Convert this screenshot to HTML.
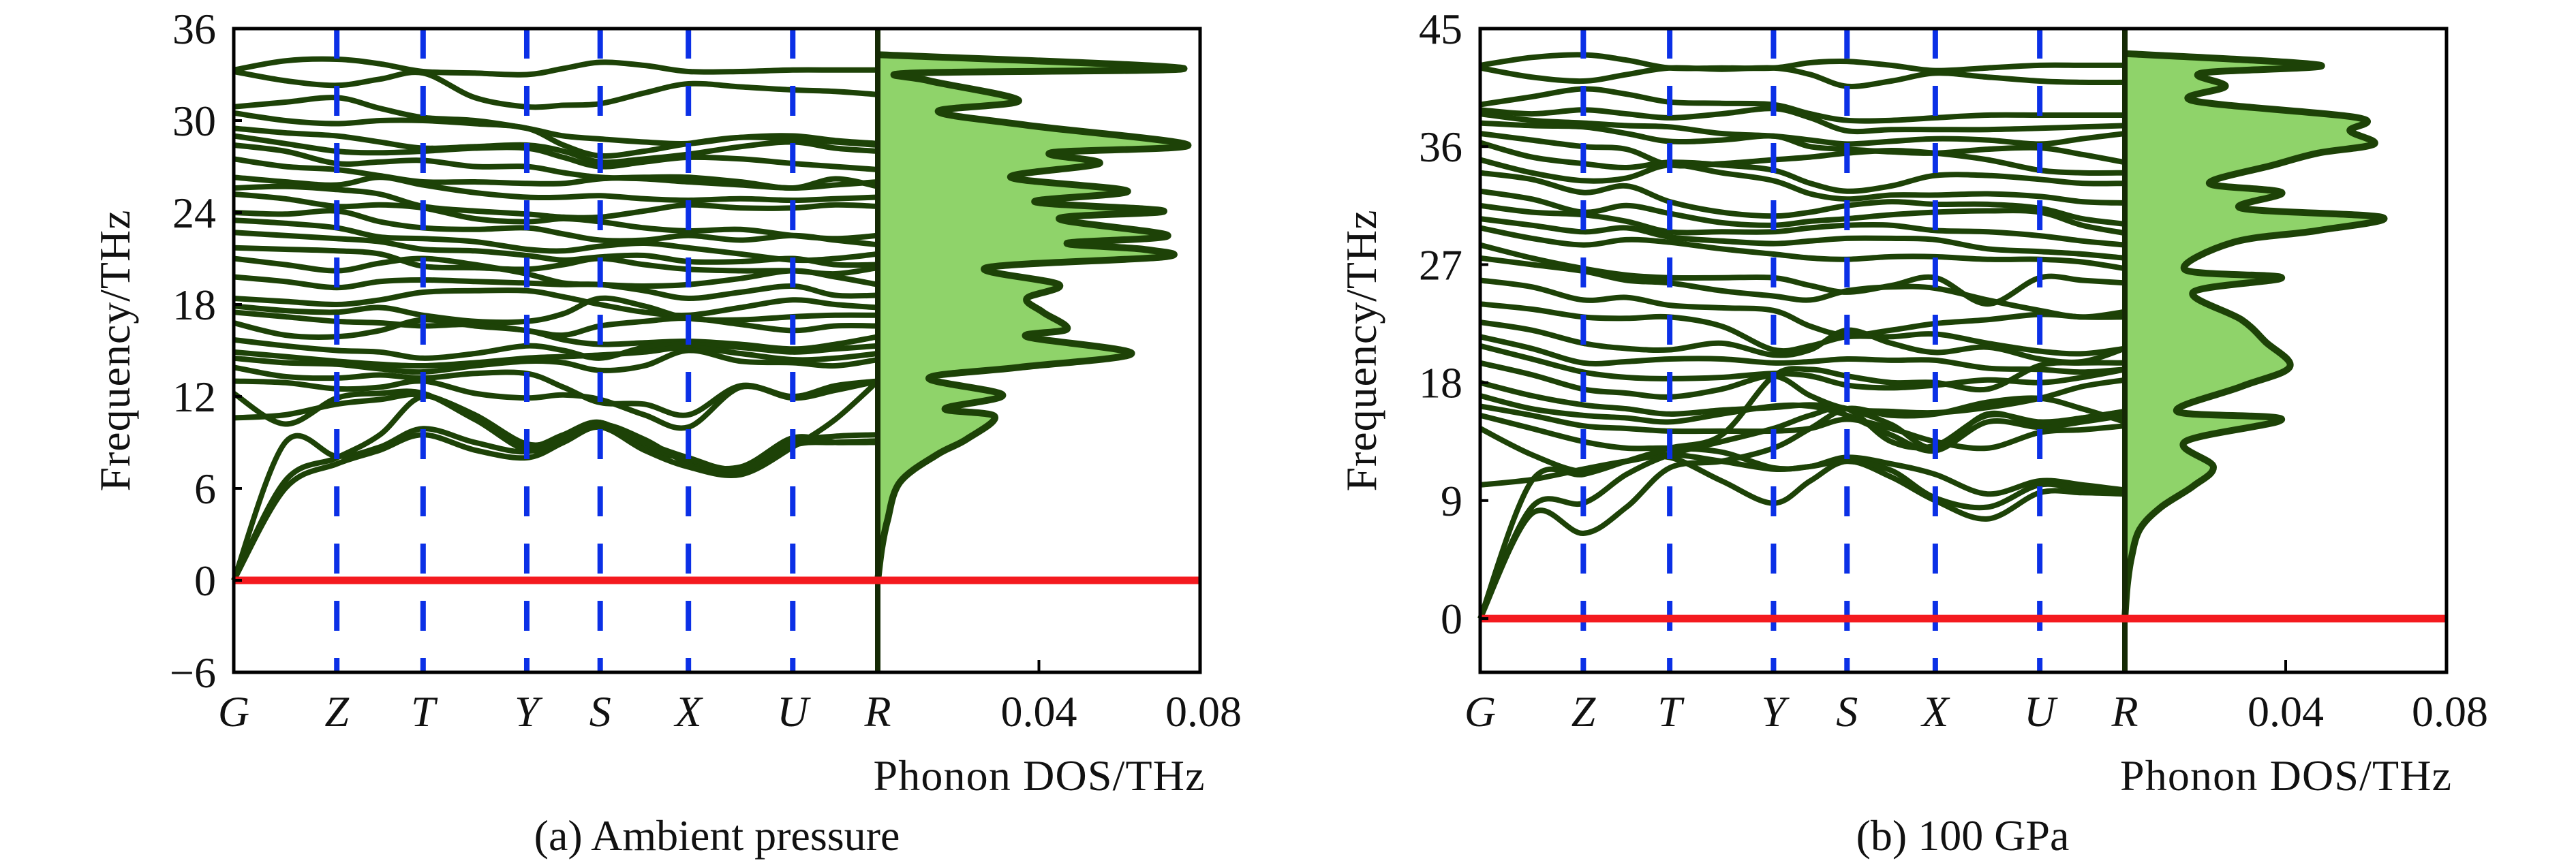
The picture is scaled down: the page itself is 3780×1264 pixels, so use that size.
<!DOCTYPE html>
<html><head><meta charset="utf-8"><style>
html,body{margin:0;padding:0;background:#fff}
svg{display:block}
svg text{font-family:"Liberation Serif","DejaVu Serif",serif;fill:#111}
</style></head><body>
<svg id="fig" width="3780" height="1264" viewBox="0 0 3780 1264" xmlns="http://www.w3.org/2000/svg"></svg>
<script>
// ---- data ----
const kLabels = ["G","Z","T","Y","S","X","U","R"];
const kPos = [0,0.160,0.294,0.455,0.569,0.706,0.868,1];
const dosTicks = [0.04,0.08];
const yTicksA = [-6,0,6,12,18,24,30,36];
const yTicksB = [0,9,18,27,36,45];
const bandsA = [
[33.3,33.9,34.0,33.7,33.2,33.1,33.0,33.4,33.8,33.6,33.2,33.2,33.3,33.3,33.3],
[33.2,32.6,32.3,32.7,33.1,31.5,30.9,31.0,31.1,31.8,32.4,32.2,32.0,31.9,31.7],
[30.9,31.2,31.5,30.8,30.2,30.0,29.5,29.0,28.8,28.6,28.5,28.9,29.0,28.7,28.5],
[30.5,30.0,29.8,30.0,30.0,29.8,29.5,28.4,27.7,28.0,28.5,28.9,28.8,28.6,28.4],
[29.5,29.2,29.0,28.6,28.2,28.3,28.4,28.0,27.3,27.5,27.8,28.3,28.6,28.2,28.0],
[29.0,28.5,28.0,27.9,28.0,28.2,28.2,27.6,27.0,27.3,27.6,27.5,27.2,27.0,26.8],
[28.4,28.0,27.2,27.3,27.4,27.0,27.0,26.6,26.3,26.2,26.0,25.8,25.6,25.8,26.0],
[27.5,27.0,26.8,26.4,26.0,26.0,25.9,25.9,26.2,26.3,26.3,26.0,25.6,26.2,25.7],
[26.3,26.0,25.8,26.3,25.8,25.3,25.0,25.0,25.1,24.9,24.8,24.9,24.8,24.9,25.0],
[25.6,25.7,25.5,25.2,24.4,24.1,23.9,23.7,23.7,24.1,24.5,24.3,24.3,24.5,24.4],
[25.2,24.9,24.4,24.5,24.3,23.6,23.4,23.6,23.4,23.0,22.8,22.9,22.5,22.3,22.5],
[24.0,23.9,24.1,23.4,23.0,22.9,23.0,22.6,22.2,22.2,22.5,22.2,22.5,22.2,21.9],
[23.5,23.3,23.0,22.4,22.3,22.1,21.6,21.5,21.8,22.0,21.7,21.3,20.9,21.0,21.3],
[22.7,22.5,22.3,22.1,21.6,21.5,21.2,20.9,21.1,21.2,20.8,20.8,21.0,20.6,20.6],
[21.7,21.6,21.5,21.3,20.5,20.4,20.3,20.6,21.0,20.6,20.3,20.2,20.2,20.0,20.4],
[21.0,20.6,20.2,20.7,21.0,20.6,20.0,19.4,19.3,19.2,19.3,19.7,20.2,19.8,19.3],
[19.8,19.5,19.1,19.5,19.6,19.5,19.4,19.3,19.3,18.9,18.4,18.8,19.2,18.6,18.6],
[18.4,18.2,18.0,18.3,18.8,18.9,18.9,18.5,18.0,17.5,17.3,17.8,18.3,18.0,17.8],
[17.9,17.6,17.5,17.8,17.3,16.9,16.9,17.4,18.4,17.9,17.1,17.0,17.2,17.3,17.3],
[17.5,17.2,16.9,16.8,16.6,16.7,16.3,16.0,16.6,16.9,17.1,16.7,16.3,16.6,16.6],
[16.8,16.0,15.9,16.3,17.0,16.6,16.3,15.7,15.4,15.5,15.6,15.4,15.1,15.4,15.9],
[15.7,15.3,15.0,14.9,14.5,14.8,15.3,15.0,14.5,15.2,15.4,15.2,14.9,15.1,15.3],
[14.9,14.6,14.3,14.1,14.0,14.2,14.5,14.6,14.7,14.9,15.2,14.8,14.4,14.5,14.8],
[14.5,14.2,14.1,13.8,13.6,14.0,14.3,14.2,13.7,14.0,15.0,14.3,14.2,14.0,14.4],
[13.9,13.3,13.2,13.4,13.2,13.5,13.5,12.6,11.6,11.5,10.8,12.7,12.0,12.7,13.0],
[13.0,12.9,12.5,12.6,13.0,12.2,11.9,12.1,11.8,10.8,10.0,12.6,11.9,12.4,13.0],
[10.6,10.8,11.5,11.8,12.1,10.8,8.9,9.3,10.2,9.2,7.7,7.4,9.3,9.0,9.1],
[12.2,10.2,11.9,12.2,12.2,10.5,8.8,9.5,10.3,8.6,7.9,7.0,8.8,9.0,9.1],
[0,9.0,8.1,8.7,9.9,9.0,8.4,9.5,10.3,8.8,7.9,7.3,9.1,9.0,9.0],
[0,6.0,7.6,8.5,9.5,8.5,8.0,9.0,10.0,8.5,7.4,6.9,8.7,10.5,13.0],
[0,6.5,8.0,9.5,12.0,10.5,8.5,9.2,10.1,9.0,8.0,7.2,9.0,9.4,9.5]
];
const bandsB = [
[42.2,42.8,43.0,42.6,42.0,42.0,42.0,42.4,42.5,42.2,41.8,42.0,42.2,42.2,42.2],
[42.0,41.3,41.0,41.5,42.0,41.9,42.0,41.5,40.6,41.0,41.6,41.3,41.0,40.9,40.9],
[39.2,39.8,40.4,40.0,39.4,39.3,39.2,38.5,38.0,38.0,38.2,38.4,38.4,38.4,38.4],
[38.8,38.5,38.8,38.5,38.2,38.5,38.9,38.2,37.2,37.3,37.3,37.3,37.4,37.5,37.6],
[38.5,38.0,37.8,37.6,37.5,37.0,36.8,36.5,36.2,36.4,36.6,36.5,36.2,36.6,37.0],
[37.8,37.6,37.5,37.0,36.4,36.5,36.8,36.0,35.8,35.6,35.5,35.8,35.9,35.4,34.8],
[37.0,36.5,36.0,35.8,34.6,34.7,35.0,35.2,35.5,35.7,35.5,35.0,34.2,34.0,34.0],
[36.3,35.2,34.7,34.4,34.8,34.6,34.2,33.2,32.6,33.0,33.8,33.8,33.5,33.2,33.2],
[35.0,34.0,33.4,33.6,34.6,34.0,33.4,32.4,32.0,32.3,32.3,32.4,32.2,31.8,31.7],
[34.0,33.5,32.5,33.0,31.8,31.0,30.7,31.0,31.5,31.8,31.6,31.6,31.3,30.5,30.1],
[32.6,32.0,31.0,31.5,30.9,30.2,30.0,30.3,30.5,30.8,31.0,31.1,31.0,30.0,29.4],
[31.5,31.0,30.8,30.3,29.5,29.5,29.5,29.8,30.0,30.0,29.6,29.5,29.2,28.8,28.5],
[30.5,30.0,29.5,29.8,29.1,28.8,28.6,28.8,29.0,29.0,28.9,28.2,28.0,27.8,27.5],
[29.8,29.0,28.5,28.9,28.7,28.2,27.8,27.5,27.4,27.6,27.6,27.4,27.4,27.2,26.7],
[28.5,27.5,26.7,26.2,26.0,26.0,26.0,25.4,24.9,25.4,26.0,24.0,26.0,25.8,25.6],
[27.5,27.0,26.5,25.8,25.6,25.0,24.6,24.3,25.0,25.3,25.2,24.3,23.5,23.0,23.4],
[25.8,25.3,24.3,24.5,23.9,23.7,23.5,22.3,21.6,22.0,22.5,22.8,23.2,23.0,23.0],
[24.0,23.6,23.0,22.9,23.0,22.3,20.5,20.8,21.5,21.5,21.7,21.0,20.4,20.2,20.6],
[22.6,22.0,21.0,20.6,20.5,21.0,20.1,20.5,22.0,21.0,20.3,20.7,19.8,19.6,20.6],
[21.5,20.6,19.5,19.6,19.8,19.8,19.5,19.6,19.8,19.7,19.7,19.1,19.0,18.8,19.0],
[20.8,19.8,18.8,18.4,18.3,18.4,18.7,18.5,17.8,17.6,17.8,18.2,18.0,18.4,19.0],
[19.5,18.6,17.5,17.2,16.9,17.5,18.5,17.0,16.0,15.8,15.7,16.1,16.8,17.7,18.2],
[18.0,17.0,16.3,16.0,15.6,15.9,16.1,16.3,16.0,14.8,13.0,15.6,14.8,15.3,15.8],
[17.0,16.0,15.5,15.3,15.0,15.6,16.2,16.2,15.5,14.0,12.8,15.0,14.6,15.0,15.5],
[16.2,15.5,14.7,14.5,14.3,14.3,14.3,14.5,15.2,14.5,13.5,13.0,14.2,14.4,14.7],
[15.5,14.5,13.5,13.0,13.0,12.7,11.5,11.6,12.3,11.8,11.0,9.5,10.5,10.2,9.8],
[10.2,10.6,11.4,12.0,12.3,10.5,8.8,10.5,12.0,10.8,9.0,7.6,9.6,9.6,9.5],
[14.5,12.5,11.2,12.0,12.5,12.0,11.4,11.6,12.0,11.3,9.2,8.5,10.2,9.8,9.5],
[0,8.5,8.8,11.0,12.5,13.5,14.5,15.5,16.0,13.5,13.2,15.5,15.0,15.3,15.8],
[0,8.0,6.5,8.5,11.5,12.0,13.0,14.5,16.0,15.5,15.6,16.5,16.8,16.0,15.0],
[0,10.5,11.0,12.0,13.0,14.0,18.5,19.0,18.5,18.0,18.0,17.5,19.3,19.5,19.5]
];
const dosFreqA = [34.3,33.4,33.1,32.6,31.3,30.6,29.7,28.4,27.9,27.2,26.3,25.4,24.7,24.1,23.6,22.5,22.0,21.6,21.1,20.4,19.3,18.4,17.5,16.4,15.9,14.8,13.9,13.2,12.1,11.2,10.7,9.2,8.2,6.4,3.9,2.1,0];
const dosValA = [0,0.076,0.0086,0.0127,0.035,0.015,0.037,0.077,0.043,0.055,0.033,0.062,0.039,0.071,0.045,0.072,0.047,0.066,0.071,0.027,0.045,0.037,0.041,0.047,0.037,0.063,0.035,0.0127,0.031,0.0167,0.029,0.022,0.0147,0.0055,0.0024,0.001,0];
const dosFreqB = [43.1,42.2,41.6,40.6,39.5,38.2,37.2,36.2,35.5,34.6,33.2,32.5,31.3,30.6,29.6,28.7,26.6,26.0,24.9,22.8,21.1,19.2,17.7,15.8,15.2,13.5,11.6,10.1,8.5,6.8,4.6,2.5,0];
const dosValB = [0,0.0487,0.019,0.025,0.017,0.058,0.056,0.062,0.048,0.037,0.021,0.039,0.029,0.064,0.048,0.027,0.015,0.039,0.017,0.029,0.035,0.041,0.029,0.013,0.039,0.015,0.022,0.017,0.009,0.0037,0.0016,0.0006,0];

const NS="http://www.w3.org/2000/svg";
const svg=document.getElementById('fig');
function mk(tag,parent){const e=document.createElementNS(NS,tag);(parent||svg).appendChild(e);return e;}
function smooth(pts){
  let d="M"+pts[0][0].toFixed(1)+","+pts[0][1].toFixed(1);
  for(let i=0;i<pts.length-1;i++){
    const p0=pts[Math.max(0,i-1)],p1=pts[i],p2=pts[i+1],p3=pts[Math.min(pts.length-1,i+2)];
    const c1=[p1[0]+(p2[0]-p0[0])/6,p1[1]+(p2[1]-p0[1])/6];
    const c2=[p2[0]-(p3[0]-p1[0])/6,p2[1]-(p3[1]-p1[1])/6];
    d+=" C"+c1[0].toFixed(1)+","+c1[1].toFixed(1)+" "+c2[0].toFixed(1)+","+c2[1].toFixed(1)+" "+p2[0].toFixed(1)+","+p2[1].toFixed(1);
  }
  return d;
}
function txt(parent,x,y,s,size,anchor,italic){
  const t=mk('text',parent);t.setAttribute('x',x);t.setAttribute('y',y);
  t.setAttribute('font-family','"Liberation Serif", "DejaVu Serif", serif');
  t.setAttribute('font-size',size);t.setAttribute('text-anchor',anchor||'middle');
  if(italic)t.setAttribute('font-style','italic');t.textContent=s;return t;
}
function panel(id,cfg,bands,yTicks,dosF,dosV,caption){
  const g=mk('g');
  
  
  const kx=k=>cfg.x0+k*(cfg.xR-cfg.x0);
  const fy=f=>cfg.top+(cfg.fmax-f)/(cfg.fmax-cfg.fmin)*(cfg.bottom-cfg.top);
  const dx=v=>cfg.xR+v/0.08*(cfg.x1-cfg.xR);
  const ks=[];for(let i=0;i<kPos.length;i++){ks.push(kPos[i]);if(i<kPos.length-1)ks.push((kPos[i]+kPos[i+1])/2);}
  const dpts=dosF.map((f,i)=>[dx(dosV[i]),fy(f)]);
  const dpath=smooth(dpts);
  const fill=mk('path',g);
  fill.setAttribute('d',dpath+" L"+dx(0)+","+fy(dosF[0])+" Z");
  fill.setAttribute('fill','#8fd36a');
  
  
  const dl=mk('path',g);
  dl.setAttribute('d',dpath);dl.setAttribute('fill','none');dl.setAttribute('stroke','#1d4207');dl.setAttribute('stroke-width','10');dl.setAttribute('stroke-linejoin','round');
  
  
  const bg=mk('g',g);
  
  
  bands.forEach((b,bi)=>{
    const p=mk('path',bg);
    p.setAttribute('d',smooth(b.map((f,i)=>[kx(ks[i]),fy(f)])));
    p.setAttribute('fill','none');p.setAttribute('stroke','#1d4207');p.setAttribute('stroke-width','8');
    
    
  });
  for(let i=1;i<kPos.length-1;i++){
    const l=mk('line',g);
    l.setAttribute('x1',kx(kPos[i]));l.setAttribute('x2',kx(kPos[i]));l.setAttribute('y1',cfg.top);l.setAttribute('y2',cfg.bottom);
    l.setAttribute('stroke','#0b30e6');l.setAttribute('stroke-width','8');l.setAttribute('stroke-dasharray','44 40');
    
    
  }
  const rl=mk('line',g);
  rl.setAttribute('x1',cfg.xR);rl.setAttribute('x2',cfg.xR);rl.setAttribute('y1',cfg.top);rl.setAttribute('y2',cfg.bottom);
  rl.setAttribute('stroke','#152a05');rl.setAttribute('stroke-width','8');
  
  
  const z=mk('line',g);
  z.setAttribute('x1',cfg.x0);z.setAttribute('x2',cfg.x1);z.setAttribute('y1',fy(0));z.setAttribute('y2',fy(0));
  z.setAttribute('stroke','#f41a1f');z.setAttribute('stroke-width','11');
  
  
  const fr=mk('rect',g);
  fr.setAttribute('x',cfg.x0);fr.setAttribute('y',cfg.top);fr.setAttribute('width',cfg.x1-cfg.x0);fr.setAttribute('height',cfg.bottom-cfg.top);
  fr.setAttribute('fill','none');fr.setAttribute('stroke','#000');fr.setAttribute('stroke-width','5');
  
  
  yTicks.forEach(v=>{
    const y=fy(v);
    const t=mk('line',g);t.setAttribute('x1',cfg.x0);t.setAttribute('x2',cfg.x0+12);t.setAttribute('y1',y);t.setAttribute('y2',y);
    t.setAttribute('stroke','#000');t.setAttribute('stroke-width','4');
    const lab=txt(g,cfg.x0-26,y+22,(v<0?"\u2212"+(-v):String(v)),64,'end');
    
    
  });
  kLabels.forEach((s,i)=>{
    const lab=txt(g,kx(kPos[i]),1066,s,64,'middle',true);
    
    
  });
  dosTicks.forEach(v=>{
    const t=mk('line',g);t.setAttribute('x1',dx(v));t.setAttribute('x2',dx(v));t.setAttribute('y1',cfg.bottom);t.setAttribute('y2',cfg.bottom-18);
    t.setAttribute('stroke','#000');t.setAttribute('stroke-width','4');
    const lab=txt(g,dx(v)+(v===0.08?5:0),1066,v.toFixed(2),64,'middle');
    
    
  });
  const dlab=txt(g,dx(0.04),1160,"Phonon DOS/THz",64,'middle');
  dlab.setAttribute('textLength','486');
  
  
  const yl=txt(g,0,0,"Frequency/THz",64,'middle');
  yl.setAttribute('transform','translate('+(cfg.x0-153)+',515) rotate(-90)');
  yl.setAttribute('textLength','413');
  
  
  const cap=txt(g,cfg.capX,1248,caption,64,'middle');
  
  
}
panel('panel-a',{x0:343,xR:1288,x1:1761,top:42,bottom:987,fmax:36,fmin:-6,capX:1052},bandsA,yTicksA,dosFreqA,dosValA,"(a) Ambient pressure");
panel('panel-b',{x0:2172,xR:3118,x1:3590,top:42,bottom:987,fmax:45,fmin:-4.1,capX:2880},bandsB,yTicksB,dosFreqB,dosValB,"(b) 100 GPa");
</script>
</body></html>
